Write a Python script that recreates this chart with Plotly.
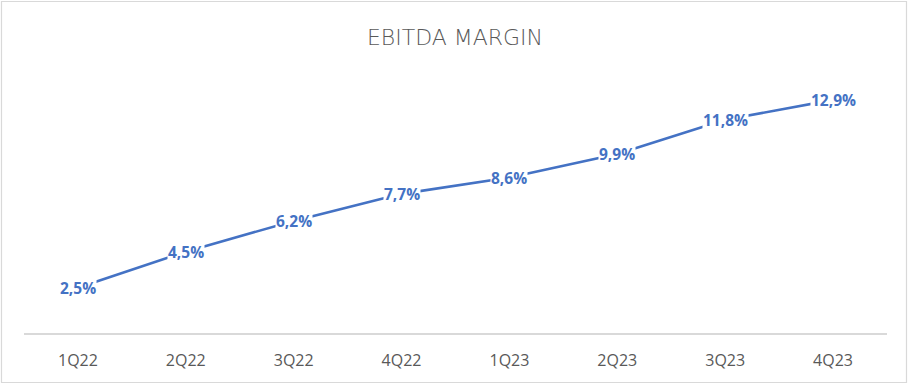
import plotly.graph_objects as go

categories = ["1Q22", "2Q22", "3Q22", "4Q22", "1Q23", "2Q23", "3Q23", "4Q23"]
margin_values = [2.5, 4.5, 6.2, 7.7, 8.6, 9.9, 11.8, 12.9]
value_labels = ["2,5%", "4,5%", "6,2%", "7,7%", "8,6%", "9,9%", "11,8%", "12,9%"]

W, H = 910, 386
L, R, T, B = 24, 23, 80, 53
pw, ph = W - L - R, H - T - B

blue = "#4472C4"
gray_text = "#595959"
gray_line = "#D9D9D9"

fig = go.Figure()
fig.add_trace(go.Scatter(
    x=categories, y=margin_values, mode="lines",
    line=dict(color=blue, width=2.6), hoverinfo="skip", showlegend=False,
))

for c, v, t in zip(categories, margin_values, value_labels):
    fig.add_annotation(
        x=c, y=v, text="<b>" + t + "</b>", showarrow=False,
        font=dict(family="Open Sans", size=15.5, color=blue),
        bgcolor="white", borderpad=0, xanchor="center", yanchor="middle",
    )

# outer chart border
fig.add_shape(
    type="rect", xref="paper", yref="paper",
    x0=(1.5 - L) / pw, x1=(906.5 - L) / pw,
    y0=(H - B - 382.5) / ph, y1=(H - B - 1.5) / ph,
    line=dict(color=gray_line, width=1.2), fillcolor="rgba(0,0,0,0)", layer="below",
)

fig.update_layout(
    width=W, height=H,
    margin=dict(l=L, r=R, t=T, b=B),
    paper_bgcolor="white", plot_bgcolor="white",
    title=dict(
        text="EBITDA MARGIN", x=0.5, xanchor="center",
        y=1 - 37 / H, yanchor="middle", yref="container",
        font=dict(family="DejaVu Sans", size=22, color=gray_text, weight=300),
    ),
    xaxis=dict(
        type="category", showgrid=False, zeroline=False,
        range=[-0.5, len(categories) - 0.5],
        showline=True, linecolor=gray_line, linewidth=1.6,
        ticks="", tickfont=dict(family="Open Sans", size=16, color=gray_text),
        ticklabelstandoff=12,
    ),
    yaxis=dict(range=[0, 14], visible=False, showgrid=False, zeroline=False),
)

fig.write_html(
    "out.html",
    config={"displayModeBar": False},
    post_script="document.body.style.margin='0';document.body.style.padding='0';",
)
